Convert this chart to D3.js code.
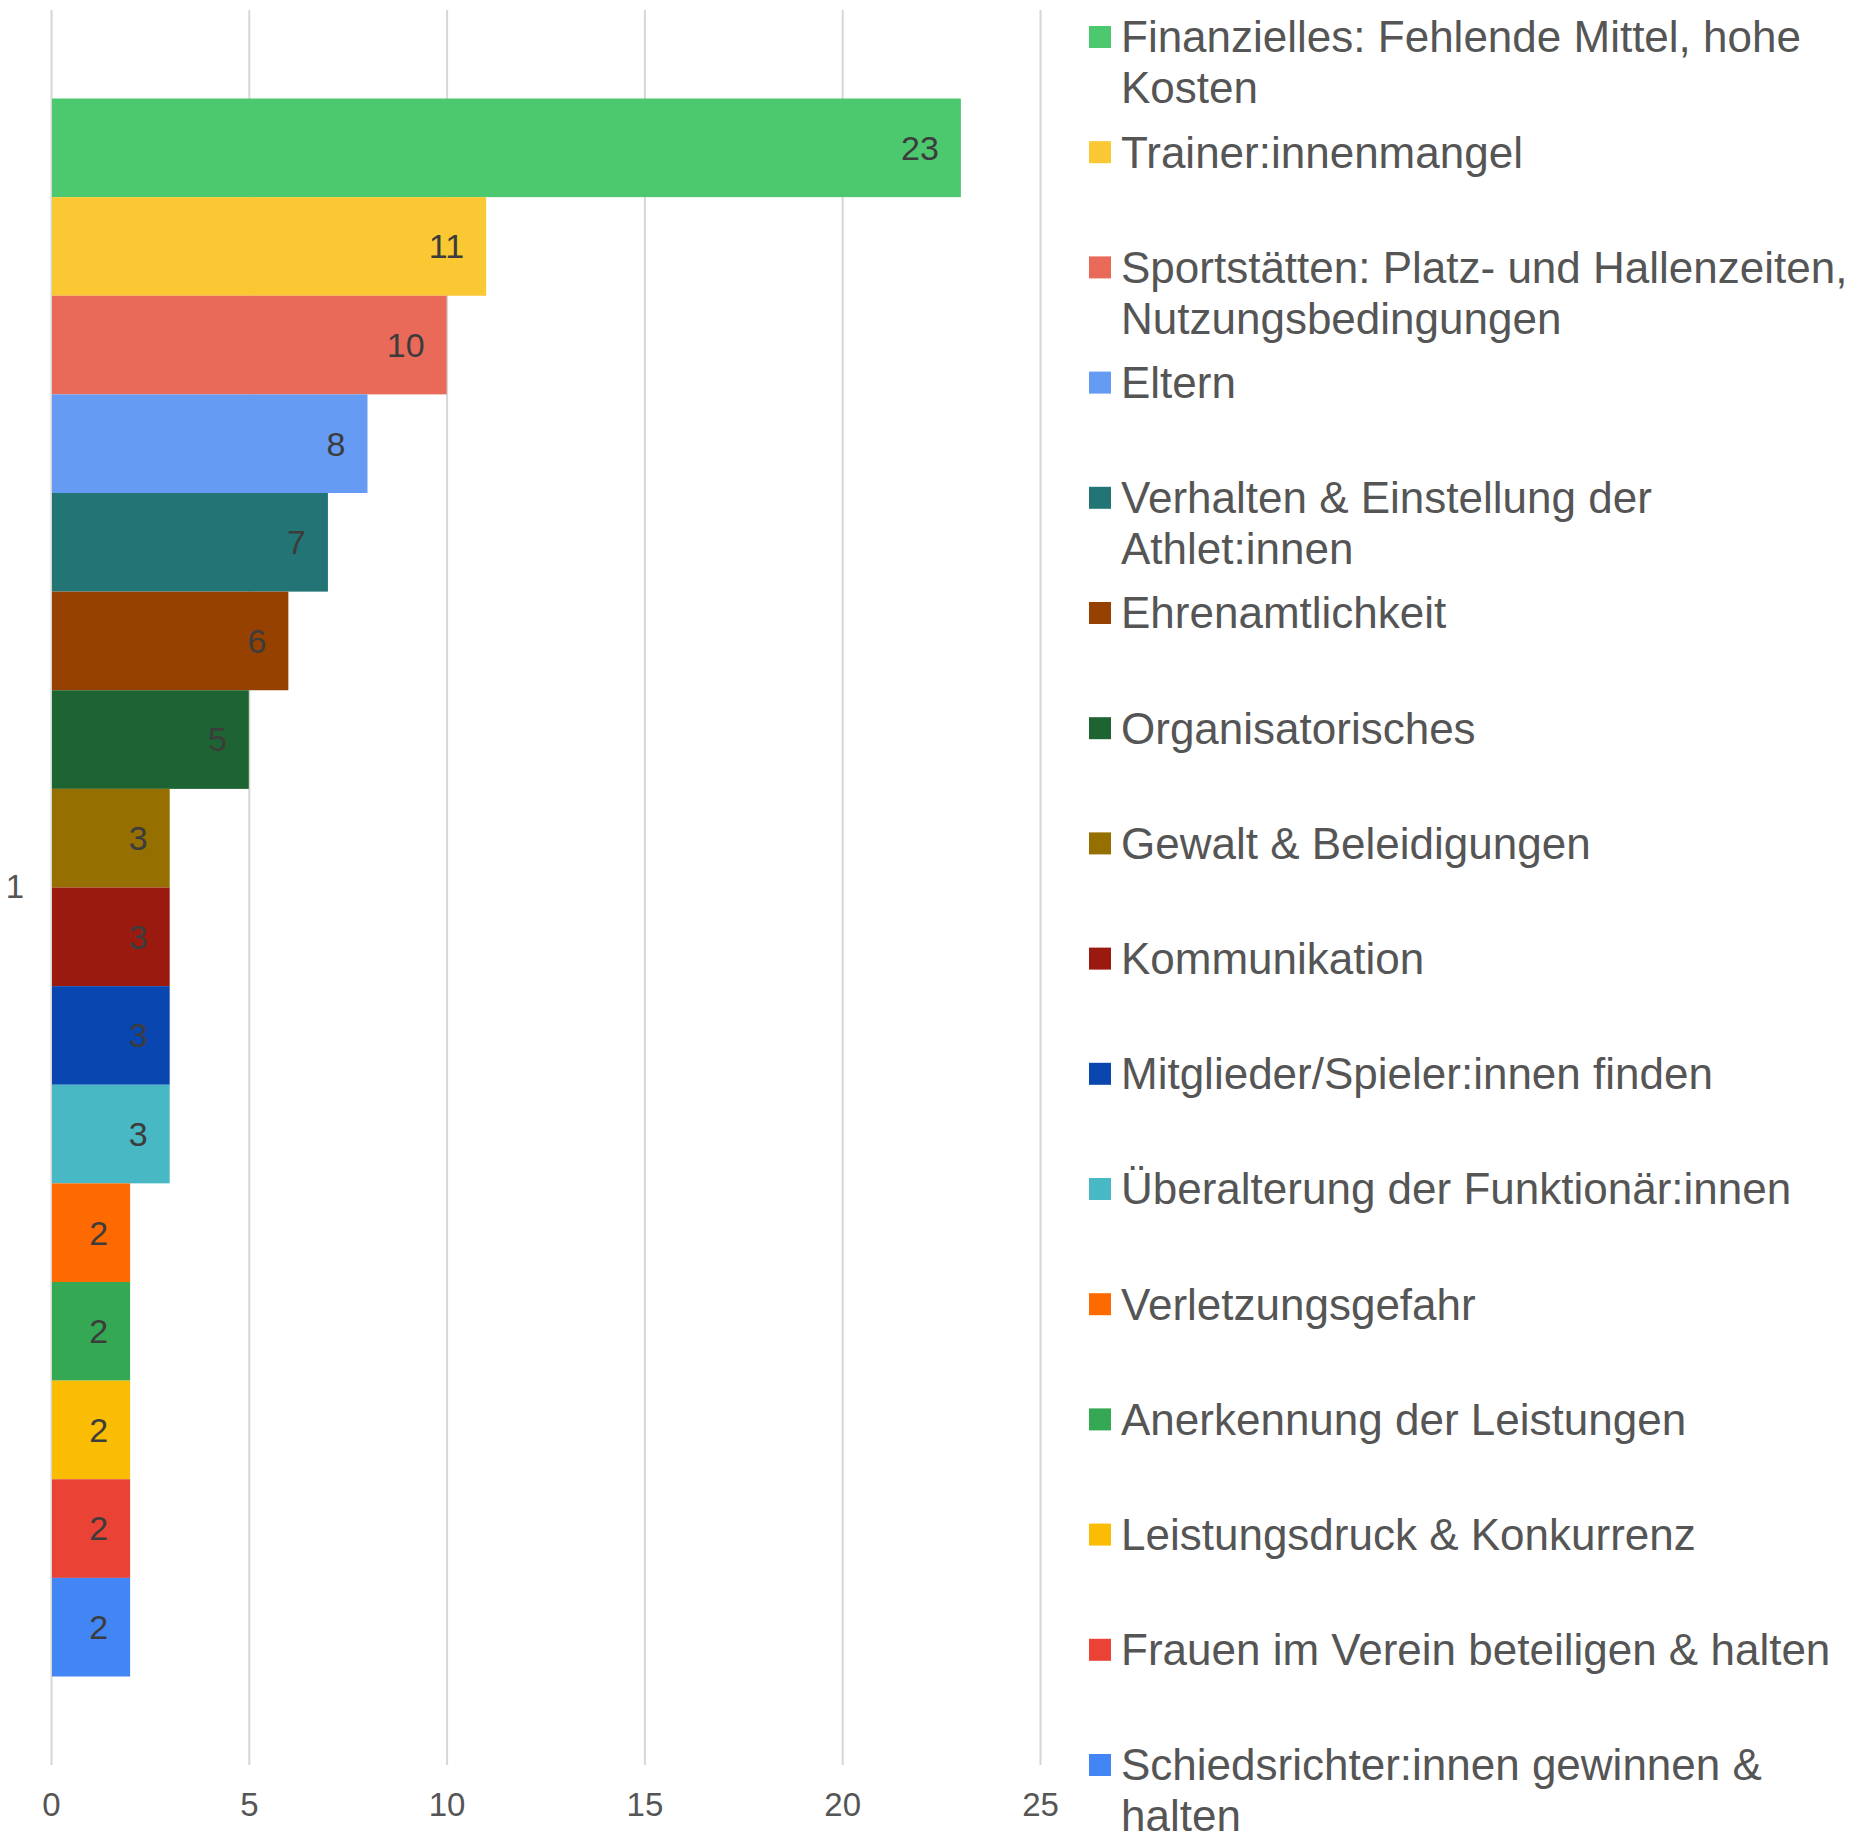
<!DOCTYPE html>
<html><head><meta charset="utf-8">
<script src="https://cdn.jsdelivr.net/npm/d3@7"></script>
<style>html,body{margin:0;padding:0;background:#fff;}svg{display:block;font-family:"Liberation Sans",Arial,sans-serif;}</style>
</head><body>
<svg id="chart" width="1873" height="1831"></svg>
<script>
const categories = ["1"];
const seriesNames = [
  "Finanzielles: Fehlende Mittel, hohe Kosten",
  "Trainer:innenmangel",
  "Sportstätten: Platz- und Hallenzeiten, Nutzungsbedingungen",
  "Eltern",
  "Verhalten & Einstellung der Athlet:innen",
  "Ehrenamtlichkeit",
  "Organisatorisches",
  "Gewalt & Beleidigungen",
  "Kommunikation",
  "Mitglieder/Spieler:innen finden",
  "Überalterung der Funktionär:innen",
  "Verletzungsgefahr",
  "Anerkennung der Leistungen",
  "Leistungsdruck & Konkurrenz",
  "Frauen im Verein beteiligen & halten",
  "Schiedsrichter:innen gewinnen & halten"
];
const seriesValues = [23, 11, 10, 8, 7, 6, 5, 3, 3, 3, 3, 2, 2, 2, 2, 2];
const seriesColors = ["#4cc86e","#f9c832","#ea6a5a","#659bf2","#237575","#974100","#1e6432","#956f00","#9a1a10","#0a46b0","#48b9c4","#ff6a00","#34a853","#fbbc04","#ea4335","#4285f4"];
const xTicks = [0, 5, 10, 15, 20, 25];

const svg = d3.select("#chart");
const x = d3.scaleLinear().domain([0, 25]).range([51, 1040]);
const y0 = d3.scaleBand().domain(categories).range([10, 1765]).paddingInner(0).paddingOuter(0);
const y1 = d3.scaleBand().domain(seriesNames).range([88.5, y0.bandwidth() - 88.5]).padding(0);

// grid
const grid = svg.append("g").attr("transform", "translate(0,1765)")
  .call(d3.axisBottom(x).tickValues(xTicks).tickSize(-1755).tickFormat(d => d).tickPadding(28));
grid.select(".domain").remove();
grid.selectAll(".tick line").attr("stroke", "#d6d6d6").attr("stroke-width", 2);
grid.selectAll(".tick text").attr("fill", "#555").attr("font-size", 33).attr("font-family", "Liberation Sans, Arial, sans-serif").attr("dy", "0.71em");

// category axis
const ya = svg.append("g").attr("transform", "translate(24,0)")
  .call(d3.axisLeft(y0).tickSize(0).tickPadding(0));
ya.select(".domain").remove();
ya.selectAll(".tick text").attr("fill", "#555").attr("font-size", 33).attr("font-family", "Liberation Sans, Arial, sans-serif");

const data = seriesNames.map((n, i) => ({name: n, value: seriesValues[i], color: seriesColors[i]}));

const g = svg.append("g").attr("transform", `translate(0,${y0("1")})`);
g.selectAll("rect").data(data).join("rect")
  .attr("x", x(0) + 1)
  .attr("y", d => y1(d.name))
  .attr("width", d => x(d.value) - x(0) - 1)
  .attr("height", y1.bandwidth())
  .attr("fill", d => d.color);

g.selectAll("text.val").data(data).join("text").attr("class", "val")
  .attr("x", d => x(d.value) - 22)
  .attr("y", d => y1(d.name) + y1.bandwidth() / 2)
  .attr("dy", "0.35em")
  .attr("text-anchor", "end")
  .attr("font-size", 34)
  .attr("fill", "#3c3c3c")
  .text(d => d.value);

// legend
const legend = svg.append("g");
const legendY = d3.scalePoint().domain(seriesNames).range([37, 1765]);
const maxW = 750;
data.forEach(d => {
  const cy = legendY(d.name);
  legend.append("rect").attr("x", 1089).attr("y", cy - 11).attr("width", 22).attr("height", 22).attr("fill", d.color);
  const t = legend.append("text").attr("x", 1121).attr("y", cy)
    .attr("font-size", 44).attr("fill", "#555");
  const words = d.name.split(" ");
  let line = [];
  let tspan = t.append("tspan").attr("x", 1121).attr("dy", "0.35em");
  words.forEach(w => {
    line.push(w);
    tspan.text(line.join(" "));
    if (tspan.node().getComputedTextLength() > maxW && line.length > 1) {
      line.pop();
      tspan.text(line.join(" "));
      line = [w];
      tspan = t.append("tspan").attr("x", 1121).attr("dy", "51px").text(w);
    }
  });
});
</script>
</body></html>
